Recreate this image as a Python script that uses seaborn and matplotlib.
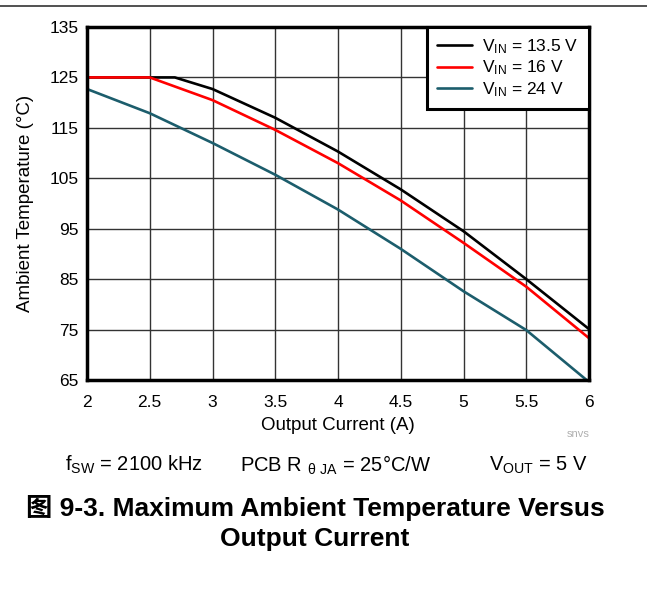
import numpy as np
import pandas as pd
import seaborn as sns
import matplotlib.pyplot as plt
from matplotlib.lines import Line2D

# data
current_135 = [2.0, 2.5, 2.7, 3.0, 3.5, 4.0, 4.5, 5.0, 5.5, 6.0]
temp_135 = [125, 125, 125, 122.7, 117.0, 110.3, 102.8, 94.5, 85.0, 75.1]
current_16 = [2.0, 2.5, 3.0, 3.5, 4.0, 4.5, 5.0, 5.5, 6.0]
temp_16 = [125, 125, 120.5, 114.6, 108.0, 100.6, 92.2, 83.5, 73.3]
current_24 = [2.0, 2.5, 3.0, 3.5, 4.0, 4.5, 5.0, 5.5, 6.0]
temp_24 = [122.7, 117.9, 112.0, 105.7, 98.8, 91.0, 82.6, 74.9, 64.6]
series_names = ["13.5", "16", "24"]
colors = ["#000000", "#ff0000", "#1c5d6c"]

df = pd.concat([
    pd.DataFrame({"I": current_135, "T": temp_135, "vin": series_names[0]}),
    pd.DataFrame({"I": current_16, "T": temp_16, "vin": series_names[1]}),
    pd.DataFrame({"I": current_24, "T": temp_24, "vin": series_names[2]}),
])

sns.set_theme(style="white")
plt.rcParams['font.family'] = ['Liberation Sans', 'Noto Sans CJK SC', 'DejaVu Sans']
plt.rcParams['mathtext.fontset'] = 'custom'
plt.rcParams['mathtext.rm'] = 'Liberation Sans'
plt.rcParams['text.color'] = 'black'
plt.rcParams['axes.labelcolor'] = 'black'

fig = plt.figure(figsize=(6.47, 5.9), dpi=100)
ax = fig.add_axes([87/647, 1 - 380/590, (589-87)/647, (380-27)/590])

sns.lineplot(data=df, x="I", y="T", hue="vin", palette=colors, sort=False,
             linewidth=1.9, ax=ax, legend=False)

ax.set_xlim(2, 6)
ax.set_ylim(65, 135)
ax.set_xticks(np.arange(2, 6.01, 0.5))
ax.set_xticklabels(["2", "2.5", "3", "3.5", "4", "4.5", "5", "5.5", "6"])
ax.set_yticks(np.arange(65, 136, 10))
ax.tick_params(axis="both", labelsize=12.5, length=0, colors="black")
ax.tick_params(axis="x", pad=11)
ax.tick_params(axis="y", pad=6)
ax.grid(True, color="#333333", linewidth=1.0)
for sp in ax.spines.values():
    sp.set_linewidth(2.5)
    sp.set_color("black")
ax.set_xlabel("Output Current (A)", fontsize=13.5, labelpad=5)
ax.set_ylabel("Ambient Temperature (°C)", fontsize=13.5, labelpad=11)

handles = [Line2D([], [], color=c, linewidth=1.9) for c in colors]
labels = [r"$\mathregular{V_{IN}}$ = " + s + " V" for s in series_names]
leg = ax.legend(handles, labels, loc="upper right", fontsize=12.5, frameon=True,
                fancybox=False, edgecolor="black", framealpha=1,
                borderaxespad=0, handlelength=2.0, labelspacing=0.15,
                borderpad=0.6, handletextpad=0.6)
leg.get_frame().set_linewidth(2.2)

# top rule
fig.add_artist(Line2D([0, 1], [1 - 6/590, 1 - 6/590], color="#333333", linewidth=1.2))

fig.text(578/647, 1 - 434/590, "snvs", fontsize=8, color="#b0b0b0", ha="center", va="center")
fig.text(134/647, 1 - 465/590, r"f$\mathregular{_{SW}}$ = 2100 kHz", fontsize=14.5, ha="center", va="center")
fig.text(336/647, 1 - 465/590, r"PCB R $\mathregular{_{\theta\ JA}}$ = 25°C/W", fontsize=14.5, ha="center", va="center")
fig.text(538/647, 1 - 465/590, r"V$\mathregular{_{OUT}}$ = 5 V", fontsize=14.5, ha="center", va="center")
fig.text(315/647, 1 - 523/590, "图 9-3. Maximum Ambient Temperature Versus\nOutput Current",
         fontsize=19, fontweight="bold", ha="center", va="center", linespacing=1.35)

fig.savefig("out.png", dpi=100)
